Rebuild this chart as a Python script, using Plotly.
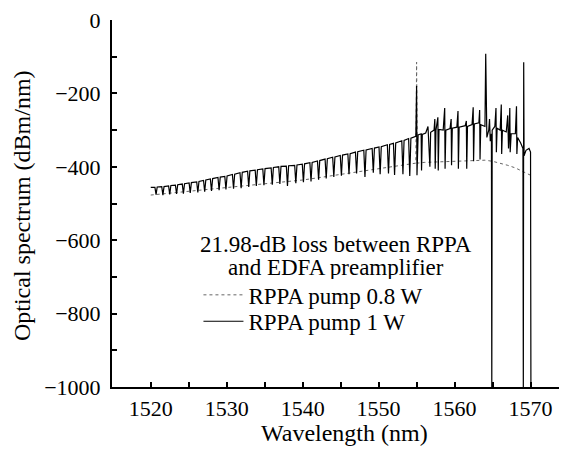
import plotly.graph_objects as go

# ---- data ----
# RPPA pump 1 W (solid)
wl_1w = [
    1520.0,
    1520.55, 1520.7, 1520.85,
    1521.45, 1521.6, 1521.75,
    1522.35, 1522.5, 1522.65,
    1523.25, 1523.4, 1523.55,
    1524.15, 1524.3, 1524.45,
    1525.05, 1525.2, 1525.35,
    1526.05, 1526.2, 1526.35,
    1526.95, 1527.1, 1527.25,
    1527.85, 1528.0, 1528.15,
    1528.85, 1529.0, 1529.15,
    1529.75, 1529.9, 1530.05,
    1530.75, 1530.9, 1531.05,
    1531.75, 1531.9, 1532.05,
    1532.75, 1532.9, 1533.05,
    1533.75, 1533.9, 1534.05,
    1534.75, 1534.9, 1535.05,
    1535.85, 1536.0, 1536.15,
    1536.85, 1537.0, 1537.15,
    1537.85, 1538.0, 1538.15,
    1538.95, 1539.1, 1539.25,
    1539.95, 1540.1, 1540.25,
    1540.95, 1541.1, 1541.25,
    1541.95, 1542.1, 1542.25,
    1542.95, 1543.1, 1543.25,
    1543.95, 1544.1, 1544.25,
    1544.95, 1545.1, 1545.25,
    1545.95, 1546.1, 1546.25,
    1546.95, 1547.1, 1547.25,
    1548.05, 1548.2, 1548.35,
    1549.15, 1549.3, 1549.45,
    1550.05, 1550.2, 1550.35,
    1551.15, 1551.3, 1551.45,
    1551.95, 1552.1, 1552.25,
    1553.05, 1553.2, 1553.35,
    1553.95, 1554.1, 1554.25,
    1554.9, 1555.0, 1555.05, 1555.2,
    1555.6, 1555.65, 1555.75,
    1556.2, 1556.5, 1556.75, 1556.85,
    1557.3, 1557.4, 1557.45, 1557.55,
    1557.8, 1557.85, 1557.95,
    1558.5, 1558.7, 1558.75, 1558.85,
    1559.4, 1559.55, 1559.6, 1559.7,
    1560.3, 1560.45, 1560.5, 1560.6,
    1561.4, 1561.55, 1561.6, 1561.7,
    1562.3, 1562.45, 1562.5, 1562.6,
    1563.2, 1563.3, 1563.35, 1563.45,
    1564.0, 1564.1, 1564.25,
    1564.5, 1564.6, 1564.7, 1564.85, 1564.9, 1564.95,
    1565.3, 1565.45, 1565.5, 1565.6,
    1566.0, 1566.15, 1566.2, 1566.3,
    1566.8, 1567.0, 1567.1, 1567.2, 1567.27, 1567.32, 1567.45,
    1568.0, 1568.15, 1568.2, 1568.3,
    1568.7, 1569.0, 1569.05, 1569.1, 1569.15,
    1569.4, 1569.8, 1570.0, 1570.05,
]
psd_1w = [
    -456,
    -456, -476, -455,
    -454, -477, -454,
    -452, -475, -451,
    -450, -474, -449,
    -447, -473, -446,
    -444, -471, -443,
    -441, -470, -440,
    -437, -468, -436,
    -433, -466, -432,
    -429, -464, -428,
    -426, -462, -425,
    -421, -460, -420,
    -416, -458, -415,
    -412, -455, -411,
    -409, -452, -408,
    -406, -450, -405,
    -403, -449, -402,
    -400, -447, -399,
    -398, -452, -397,
    -396, -445, -395,
    -393, -442, -392,
    -389, -440, -388,
    -384, -435, -383,
    -379, -432, -378,
    -374, -428, -373,
    -369, -424, -368,
    -365, -420, -364,
    -360, -418, -359,
    -355, -428, -354,
    -350, -416, -349,
    -346, -420, -345,
    -340, -418, -339,
    -336, -422, -335,
    -329, -420, -328,
    -323, -425, -322,
    -317, -180, -423, -313,
    -310, -410, -312,
    -308, -290, -400, -306,
    -300, -270, -405, -300,
    -265, -410, -298,
    -300, -240, -405, -300,
    -296, -270, -396, -295,
    -292, -248, -405, -292,
    -288, -275, -405, -290,
    -285, -238, -385, -283,
    -280, -245, -380, -285,
    -290, -92, -320,
    -300, -270, -330, -310, -1000, -300,
    -290, -240, -360, -295,
    -300, -230, -365, -300,
    -305, -260, -350, -300, -240, -360, -310,
    -310, -235, -365, -320,
    -335, -350, -1000, -115, -370,
    -355, -350, -360, -1000,
]

# RPPA pump 0.8 W (dotted)
wl_08w = [1520, 1522, 1524, 1526, 1528, 1530, 1532, 1534, 1536, 1538,
          1540, 1542, 1544, 1546, 1548, 1550, 1552, 1554, 1554.9, 1555.0,
          1555.1, 1556, 1558, 1560, 1562, 1564, 1565, 1566, 1567, 1568,
          1569, 1570]
psd_08w = [-477, -473, -469, -465, -461, -457, -453, -449, -444, -440,
           -436, -430, -424, -417, -410, -404, -398, -393, -390, -115,
           -390, -388, -386, -385, -384, -382, -385, -390, -396, -403,
           -412, -423]

x_ticks = [1520, 1530, 1540, 1550, 1560, 1570]
y_ticks = [0, -200, -400, -600, -800, -1000]

legend_header = ["21.98-dB loss between RPPA", "and EDFA preamplifier"]
names = ["RPPA pump 0.8 W", "RPPA pump 1 W"]

FONT = "Liberation Serif"

fig = go.Figure()
fig.add_trace(go.Scatter(x=wl_08w, y=psd_08w, mode="lines", name=names[0],
                         legend="legend",
                         line=dict(color="#666666", width=1, dash="dot")))
fig.add_trace(go.Scatter(x=wl_1w, y=psd_1w, mode="lines", name=names[1],
                         legend="legend2",
                         line=dict(color="black", width=1.2)))

axis_common = dict(
    showline=True, linecolor="black", linewidth=2, mirror=False,
    ticks="inside", ticklen=5, tickwidth=1.5, tickcolor="black",
    showgrid=False, zeroline=False, ticklabeloverflow="allow",
    tickfont=dict(family=FONT, size=22, color="black"),
)

fig.update_xaxes(range=[1514.9, 1574.8], tickvals=x_ticks,
                 ticklabelstandoff=1,
                 minor=dict(ticks="inside", ticklen=5, tickwidth=1.5,
                            tickcolor="black", dtick=5, tick0=1515),
                 **axis_common)
fig.update_yaxes(range=[-1000, 0], tickvals=y_ticks,
                 ticklabelstandoff=5,
                 minor=dict(ticks="inside", ticklen=5, tickwidth=1.5,
                            tickcolor="black", dtick=100, tick0=0),
                 **axis_common)

# axis titles
fig.add_annotation(x=0.51, y=-0.1242, xref="paper", yref="paper",
                   text="Wavelength (nm)", showarrow=False,
                   xanchor="center", yanchor="middle",
                   font=dict(family=FONT, size=24, color="black"))
fig.add_annotation(x=-0.1978, y=0.493, xref="paper", yref="paper",
                   text="Optical spectrum (dBm/nm)", showarrow=False,
                   textangle=-90, xanchor="center", yanchor="middle",
                   font=dict(family=FONT, size=24, color="black"))

# legend header
fig.add_annotation(x=0.492, y=0.389, xref="paper", yref="paper",
                   text=legend_header[0], showarrow=False, height=23,
                   xanchor="center", yanchor="middle",
                   font=dict(family=FONT, size=23, color="black"))
fig.add_annotation(x=0.492, y=0.3266, xref="paper", yref="paper",
                   text=legend_header[1], showarrow=False, height=23,
                   xanchor="center", yanchor="middle",
                   font=dict(family=FONT, size=23, color="black"))

leg_common = dict(xanchor="left", yanchor="middle",
                  bgcolor="rgba(0,0,0,0)", borderwidth=0,
                  itemwidth=40,
                  font=dict(family=FONT, size=23, color="black"))

fig.update_layout(
    width=559, height=443,
    margin=dict(l=104, r=0, t=6, b=64.3),
    paper_bgcolor="white", plot_bgcolor="white",
    showlegend=True,
    legend=dict(x=0.19, y=0.251, **leg_common),
    legend2=dict(x=0.19, y=0.179, **leg_common),
)

fig.write_html("out.html")
